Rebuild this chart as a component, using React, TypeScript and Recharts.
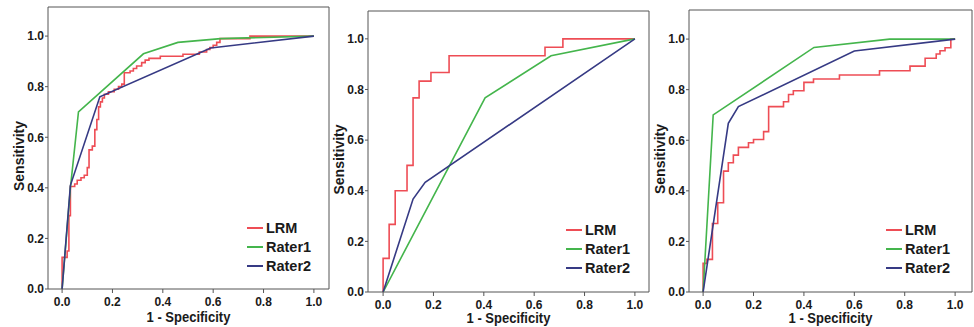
import { LineChart, Line, XAxis, YAxis, Legend, ReferenceLine } from "recharts";

type Pt = [number, number];

const TICKS = [0, 0.2, 0.4, 0.6, 0.8, 1.0];
const SERIES = ["LRM", "Rater1", "Rater2"];

// left panel: [1 - specificity, sensitivity]
const lrmA: Pt[] = [
  [0, 0], [0, 0.125], [0.02, 0.15], [0.027, 0.29], [0.033, 0.405], [0.05, 0.415],
  [0.06, 0.43], [0.075, 0.44], [0.088, 0.45], [0.1, 0.48], [0.107, 0.55], [0.12, 0.565],
  [0.13, 0.63], [0.138, 0.67], [0.145, 0.72], [0.152, 0.74], [0.16, 0.755], [0.168, 0.77],
  [0.184, 0.78], [0.207, 0.79], [0.224, 0.8], [0.237, 0.81], [0.247, 0.855], [0.27, 0.862],
  [0.283, 0.872], [0.296, 0.882], [0.316, 0.895], [0.33, 0.905], [0.345, 0.912], [0.39, 0.92],
  [0.48, 0.928], [0.545, 0.937], [0.574, 0.947], [0.587, 0.955], [0.6, 0.964], [0.614, 0.975],
  [0.627, 0.99], [0.746, 1.0], [1, 1],
];
const rater1A: Pt[] = [[0, 0], [0.033, 0.4], [0.065, 0.7], [0.323, 0.93], [0.46, 0.975], [0.63, 0.99], [1, 1]];
const rater2A: Pt[] = [[0, 0], [0.033, 0.41], [0.15, 0.76], [0.59, 0.953], [1, 1]];

// middle panel
const lrmB: Pt[] = [
  [0, 0], [0, 0.133], [0.024, 0.267], [0.048, 0.4], [0.095, 0.5], [0.119, 0.767],
  [0.143, 0.833], [0.19, 0.867], [0.262, 0.933], [0.643, 0.967], [0.714, 1.0], [1, 1],
];
const rater1B: Pt[] = [[0, 0], [0.405, 0.767], [0.667, 0.933], [1, 1]];
const rater2B: Pt[] = [[0, 0], [0.119, 0.367], [0.167, 0.433], [1, 1]];

// right panel
const lrmC: Pt[] = [
  [0, 0], [0, 0.113], [0.015, 0.129], [0.037, 0.271], [0.058, 0.353], [0.081, 0.478],
  [0.1, 0.511], [0.12, 0.541], [0.14, 0.572], [0.18, 0.59], [0.2, 0.603], [0.24, 0.634],
  [0.26, 0.733], [0.319, 0.752], [0.339, 0.781], [0.358, 0.796], [0.4, 0.829], [0.438, 0.842],
  [0.541, 0.858], [0.7, 0.875], [0.821, 0.893], [0.881, 0.924], [0.925, 0.941], [0.94, 0.954],
  [0.96, 0.966], [0.983, 1.0], [1, 1],
];
const rater1C: Pt[] = [[0, 0], [0.04, 0.7], [0.44, 0.967], [0.74, 1.0], [1, 1]];
const rater2C: Pt[] = [[0, 0], [0.1, 0.667], [0.14, 0.733], [0.6, 0.953], [1, 1]];

const COLORS: Record<string, string> = { LRM: "#ee4d55", Rater1: "#44b54c", Rater2: "#363a84" };
const FONT = '"Liberation Sans", Arial, Helvetica, sans-serif';
const AXIS = "#555";

const toPts = (arr: Pt[]) => arr.map(([x, y]) => ({ x, y }));

const PANELS = [
  { left: 0, width: 331, top: 7, bottom: 3, xDom: [-0.056, 1.06], yDom: [0, 1.115], legend: { left: 247, top: 218 }, series: [lrmA, rater1A, rater2A] },
  { left: 320, width: 331, top: 11, bottom: 0, xDom: [-0.06, 1.056], yDom: [0, 1.11], legend: { left: 246, top: 220 }, series: [lrmB, rater1B, rater2B] },
  { left: 641, width: 333, top: 10, bottom: 0, xDom: [-0.056, 1.067], yDom: [0, 1.115], legend: { left: 245, top: 220 }, series: [lrmC, rater1C, rater2C] },
];

const YLabel = (props: any) => {
  const vb = props.viewBox || { x: 0, y: 7, width: 48, height: 282 };
  const cx = vb.x + 19;
  const cy = vb.y + vb.height / 2 + 8;
  return (
    <text x={cx} y={cy} transform={`rotate(-90 ${cx} ${cy})`} textAnchor="middle" dominantBaseline="central"
      fontFamily={FONT} fontWeight="bold" fontSize={14} fill="#1a1a1a">
      Sensitivity
    </text>
  );
};

const XLabel = (props: any) => {
  const vb = props.viewBox || { x: 48, y: 289, width: 281, height: 35 };
  const cx = vb.x + vb.width / 2;
  const cy = Math.min(vb.y + 33.5, 323);
  return (
    <text x={cx} y={cy} textAnchor="middle" fontFamily={FONT} fontWeight="bold" fontSize={14}
      fill="#1a1a1a" transform={`translate(${cx} 0) scale(0.93 1) translate(${-cx} 0)`}>
      1 - Specificity
    </text>
  );
};

const renderLegend = (props: any) => {
  const items = props.payload && props.payload.length
    ? props.payload.map((p: any) => ({ name: p.value, color: p.color }))
    : SERIES.map((n) => ({ name: n, color: COLORS[n] }));
  return (
    <div style={{ fontFamily: FONT, fontWeight: "bold", fontSize: 14.5, color: "#1a1a1a" }}>
      {items.map((it: any) => (
        <div key={it.name} style={{ display: "flex", alignItems: "center", height: 19 }}>
          <span style={{ display: "inline-block", width: 16, height: 2, background: it.color, marginRight: 3 }} />
          <span>{it.name}</span>
        </div>
      ))}
    </div>
  );
};

function RocPanel({ p }: { p: (typeof PANELS)[number] }) {
  return (
    <div style={{ position: "absolute", left: p.left, top: 0 }}>
      <LineChart width={p.width} height={327} margin={{ top: p.top, right: 2, bottom: p.bottom, left: 0 }}>
        <XAxis
          type="number" dataKey="x" domain={p.xDom} allowDataOverflow ticks={TICKS}
          tickFormatter={(v: number) => v.toFixed(1)} height={35}
          stroke={AXIS} tickSize={4} tickMargin={4}
          tick={{ fill: "#1a1a1a", fontSize: 12, fontWeight: "bold", fontFamily: FONT }}
          label={<XLabel />}
        />
        <YAxis
          type="number" dataKey="y" domain={p.yDom} allowDataOverflow ticks={TICKS}
          tickFormatter={(v: number) => v.toFixed(1)} width={48}
          stroke={AXIS} tickSize={3} tickMargin={1}
          tick={{ fill: "#1a1a1a", fontSize: 12, fontWeight: "bold", fontFamily: FONT }}
          label={<YLabel />}
        />
        <ReferenceLine x={p.xDom[1]} stroke={AXIS} />
        <ReferenceLine y={p.yDom[1]} stroke={AXIS} />
        {SERIES.map((name, i) => (
          <Line
            key={name} name={name} data={toPts(p.series[i])} dataKey="y"
            type={name === "LRM" ? "stepAfter" : "linear"}
            stroke={COLORS[name]} strokeWidth={1.6} dot={false} activeDot={false}
            isAnimationActive={false}
          />
        ))}
        <Legend
          layout="vertical" align="center" verticalAlign="middle" content={renderLegend}
          wrapperStyle={{ left: p.legend.left, top: p.legend.top, bottom: "auto", width: "auto" }}
        />
      </LineChart>
    </div>
  );
}

export default function App() {
  return (
    <div style={{ position: "absolute", left: 0, top: 0, width: 974, height: 327, background: "#fff", overflow: "hidden" }}>
      {PANELS.map((p, i) => <RocPanel key={i} p={p} />)}
    </div>
  );
}
